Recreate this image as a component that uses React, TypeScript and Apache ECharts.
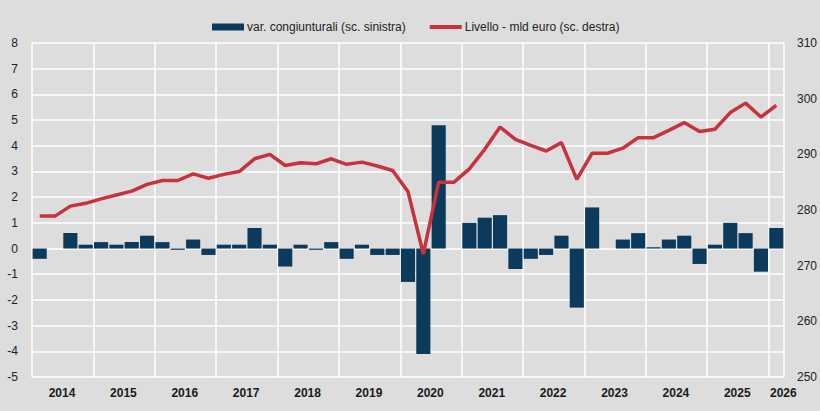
import React, { useEffect, useRef } from "react";
import * as echarts from "echarts";

// Quarterly categories 2014 Q1 – 2026 Q1
const years = [2014, 2015, 2016, 2017, 2018, 2019, 2020, 2021, 2022, 2023, 2024, 2025];
const quarters: string[] = [];
years.forEach((y) => ["T1", "T2", "T3", "T4"].forEach((q) => quarters.push(`${y} ${q}`)));
quarters.push("2026 T1");

// Quarter-on-quarter change, % (left scale)
const varCongiunturali = [
  -0.4, 0, 0.6, 0.15,
  0.25, 0.15, 0.25, 0.5,
  0.25, -0.05, 0.35, -0.25,
  0.15, 0.15, 0.8, 0.15,
  -0.7, 0.15, -0.05, 0.25,
  -0.4, 0.15, -0.25, -0.25,
  -1.3, -4.1, 4.8, 0,
  1.0, 1.2, 1.3, -0.8,
  -0.4, -0.25, 0.5, -2.3,
  1.6, 0, 0.35, 0.6,
  0.05, 0.35, 0.5, -0.6,
  0.15, 1.0, 0.6, -0.9,
  0.8,
];

// Level, billion euro (right scale)
const livello = [
  278.9, 278.9, 280.7, 281.2,
  282.0, 282.7, 283.4, 284.6,
  285.3, 285.3, 286.5, 285.7,
  286.4, 286.9, 289.2, 290.0,
  288.0, 288.5, 288.3, 289.2,
  288.2, 288.6, 287.9, 287.1,
  283.3, 272.1, 285.0, 285.0,
  287.4, 290.9, 294.9, 292.7,
  291.6, 290.6, 292.1, 285.5,
  290.2, 290.2, 291.1, 293.0,
  293.0, 294.3, 295.7, 294.1,
  294.5, 297.5, 299.2, 296.7,
  298.8,
];

const leftTicks = { min: -5, max: 8, interval: 1 };
const rightTicks = { min: 250, max: 310, interval: 10 };

const BAR_NAME = "var. congiunturali (sc. sinistra)";
const LINE_NAME = "Livello - mld euro (sc. destra)";

const BAR_COLOR = "#0c3a5d";
const LINE_COLOR = "#c8323c";

export default function App() {
  const ref = useRef<HTMLDivElement>(null);

  useEffect(() => {
    if (!ref.current) return;
    const chart = echarts.init(ref.current, null, { renderer: "svg" });
    const font = "'Liberation Sans', Arial, sans-serif";
    chart.setOption({
      animation: false,
      backgroundColor: "#dddddd",
      textStyle: { fontFamily: font },
      legend: {
        top: 16,
        left: 207,
        itemGap: 24,
        itemWidth: 32,
        itemHeight: 7,
        symbolKeepAspect: true,
        textStyle: { fontFamily: font, fontSize: 12, color: "#222", padding: [0, 0, 0, -2] },
        data: [
          { name: BAR_NAME, icon: "rect", itemStyle: { color: BAR_COLOR } },
          {
            name: LINE_NAME,
            icon: "path://M0,0L32,0L32,4L0,4Z",
            itemStyle: { color: LINE_COLOR },
          },
        ],
      },
      grid: { left: 32, right: 35, top: 43, bottom: 34 },
      xAxis: {
        type: "category",
        data: quarters,
        boundaryGap: true,
        axisLine: { show: false },
        axisTick: { show: false },
        splitLine: {
          show: true,
          interval: (i: number) => i % 4 === 0,
          lineStyle: { color: "#ffffff", width: 1.5 },
        },
        axisLabel: {
          interval: (i: number) => i % 4 === 1 || i === quarters.length - 1,
          formatter: (v: string) => v.slice(0, 4),
          padding: [0, 0, 0, 14],
          margin: 10,
          fontFamily: font,
          fontSize: 12,
          fontWeight: "bold",
          color: "#1a1a1a",
        },
      },
      yAxis: [
        {
          type: "value",
          ...leftTicks,
          axisLine: { show: false },
          axisTick: { show: false },
          splitLine: { show: true, lineStyle: { color: "#ffffff", width: 1.5 } },
          axisLabel: { margin: 14, fontFamily: font, fontSize: 12, color: "#222" },
        },
        {
          type: "value",
          ...rightTicks,
          axisLine: { show: false },
          axisTick: { show: false },
          splitLine: { show: false },
          axisLabel: { margin: 13, fontFamily: font, fontSize: 12, color: "#222" },
        },
      ],
      series: [
        {
          name: BAR_NAME,
          type: "bar",
          yAxisIndex: 0,
          data: varCongiunturali,
          barCategoryGap: "8%",
          itemStyle: { color: BAR_COLOR },
        },
        {
          name: LINE_NAME,
          type: "line",
          yAxisIndex: 1,
          data: livello,
          symbol: "none",
          lineStyle: { color: LINE_COLOR, width: 3.5 },
          itemStyle: { color: LINE_COLOR },
          z: 3,
        },
      ],
    });
    return () => chart.dispose();
  }, []);

  return (
    <div
      ref={ref}
      style={{ position: "absolute", left: 0, top: 0, width: 820, height: 411 }}
    />
  );
}
